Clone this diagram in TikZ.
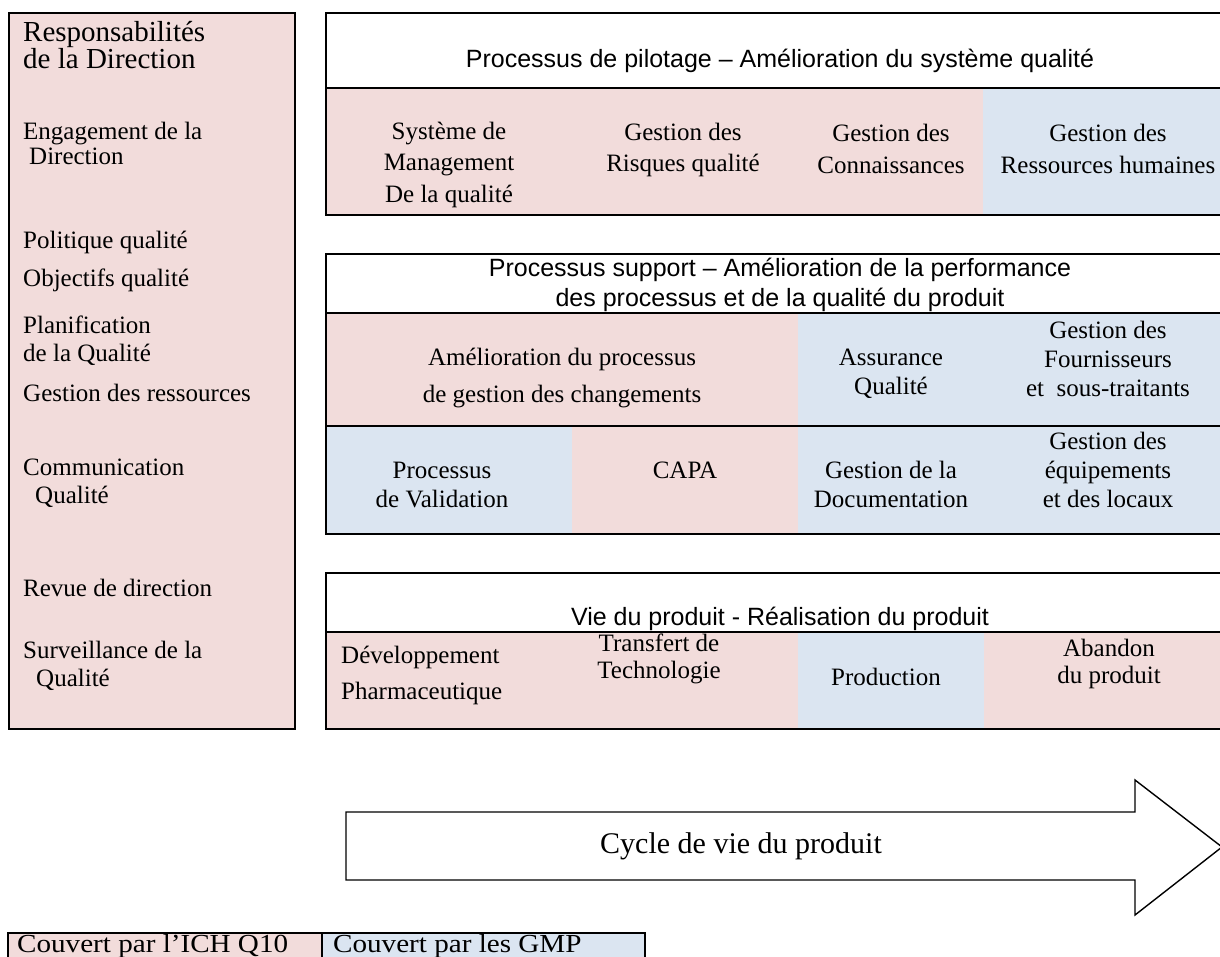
\documentclass[tikz,border=0pt]{standalone}
\usepackage{fontspec}
\setmainfont{Liberation Serif}
\setsansfont{Liberation Sans}
\newfontfamily\legendfont{Liberation Serif}[FakeStretch=1.12]
\definecolor{pinkc}{HTML}{F2DCDB}
\definecolor{bluec}{HTML}{DBE5F1}
\begin{document}
\begin{tikzpicture}[x=1pt,y=-1pt,
  frame/.style={draw=black, line width=1.2pt},
  cell/.style={font=\fontsize{25}{29}\selectfont, inner sep=0pt, align=center},
  topcell/.style={font=\fontsize{25}{31.5}\selectfont, inner sep=0pt, align=center},
  lefttxt/.style={font=\fontsize{25}{25}\selectfont, inner sep=0pt, align=left},
  stitle/.style={font=\sffamily\fontsize{25}{30}\selectfont, inner sep=0pt, align=center},
  big/.style={font=\fontsize{30}{30}\selectfont, inner sep=0pt},
  legtxt/.style={font=\legendfont\fontsize{26}{26}\selectfont, inner sep=0pt}]
\useasboundingbox (0,0) rectangle (1220,957);

% ---------- left box ----------
\path[fill=pinkc] (9,13) rectangle (295,729);
\draw[frame] (9,13) rectangle (295,729);
\node[lefttxt, font=\fontsize{29}{25}\selectfont, anchor=west] (resp) at (23,45) {Responsabilités\\de la Direction};
\node[lefttxt, anchor=west] (engag) at (23,143) {Engagement de la\\\hspace*{6pt}Direction};
\node[lefttxt, anchor=base west] (polit) at (23,249) {Politique qualité};
\node[lefttxt, anchor=base west] (objec) at (23,287) {Objectifs qualité};
\node[lefttxt, font=\fontsize{25}{28}\selectfont, anchor=west] (plan) at (23,341) {Planification\\de la Qualité};
\node[lefttxt, anchor=base west] (gres) at (23,401) {Gestion des ressources};
\node[lefttxt, font=\fontsize{25}{28}\selectfont, anchor=west] (comm) at (23,483) {Communication\\\hspace*{12pt}Qualité};
\node[lefttxt, anchor=base west] (revue) at (23,596) {Revue de direction};
\node[lefttxt, font=\fontsize{25}{28}\selectfont, anchor=west] (surv) at (23,666) {Surveillance de la\\\hspace*{13pt}Qualité};

% ---------- panel 1 : pilotage ----------
\path[fill=pinkc] (326,88) rectangle (983,215);
\path[fill=bluec] (983,88) rectangle (1234,215);
\draw[frame] (326,13) rectangle (1234,215);
\draw[frame] (326,88) -- (1234,88);
\node[stitle, anchor=base] (pilot) at (780,68) {Processus de pilotage – Amélioration du système qualité};
\node[topcell] (smq) at (449,164.5) {Système de\\Management\\De la qualité};
\node[topcell] (grq) at (683,150) {Gestion des\\Risques qualité};
\node[topcell] (gcon) at (891,149) {Gestion des\\Connaissances};
\node[topcell] (grh) at (1108,149) {Gestion des\\Ressources humaines};

% ---------- panel 2 : support ----------
\path[fill=pinkc] (326,313) rectangle (798,426);
\path[fill=bluec] (798,313) rectangle (1234,426);
\path[fill=bluec] (326,426) rectangle (572,534);
\path[fill=pinkc] (572,426) rectangle (798,534);
\path[fill=bluec] (798,426) rectangle (1234,534);
\draw[frame] (326,254) rectangle (1234,534);
\draw[frame] (326,313) -- (1234,313);
\draw[frame] (326,426) -- (1234,426);
\node[stitle] (supp) at (780,285) {Processus support – Amélioration de la performance\\des processus et de la qualité du produit};
\node[cell, font=\fontsize{25}{37}\selectfont] (amel) at (562,378) {Amélioration du processus\\de gestion des changements};
\node[cell] (aq) at (891,374) {Assurance\\Qualité};
\node[cell] (gfour) at (1108,358.5) {Gestion des\\Fournisseurs\\et\ \ sous-traitants};
\node[cell] (valid) at (442,485) {Processus\\de Validation};
\node[cell, anchor=base] (capa) at (685,478) {CAPA};
\node[cell] (gdoc) at (891,484) {Gestion de la\\Documentation};
\node[cell] (gequ) at (1108,470) {Gestion des\\équipements\\et des locaux};

% ---------- panel 3 : vie du produit ----------
\path[fill=pinkc] (326,632) rectangle (798,729);
\path[fill=bluec] (798,632) rectangle (984,729);
\path[fill=pinkc] (984,632) rectangle (1234,729);
\draw[frame] (326,573) rectangle (1234,729);
\draw[frame] (326,632) -- (1234,632);
\node[stitle, anchor=base] (vie) at (780,625) {Vie du produit - Réalisation du produit};
\node[cell, align=left, font=\fontsize{25}{36}\selectfont, anchor=west] (dev) at (341,675) {Développement\\Pharmaceutique};
\node[cell, font=\fontsize{25}{27}\selectfont] (transf) at (659,659) {Transfert de\\Technologie};
\node[cell, anchor=base] (prod) at (886,685) {Production};
\node[cell, font=\fontsize{25}{27}\selectfont] (aband) at (1109,664) {Abandon\\du produit};

% ---------- arrow ----------
\draw[frame, line width=1.4pt] (346,812) -- (1135,812) -- (1135,780) -- (1222,847)
  -- (1135,915) -- (1135,880) -- (346,880) -- cycle;
\node[big] (cycle) at (741,846) {Cycle de vie du produit};

% ---------- legend ----------
\path[fill=pinkc] (8,933) rectangle (322,980);
\path[fill=bluec] (322,933) rectangle (645,980);
\draw[frame] (8,980) -- (8,933) -- (645,933) -- (645,980);
\draw[frame] (322,933) -- (322,980);
\node[legtxt, anchor=base west] (ich) at (17,952) {Couvert par l’ICH Q10};
\node[legtxt, anchor=base west] (gmp) at (333,952) {Couvert par les GMP};
\end{tikzpicture}
\end{document}
